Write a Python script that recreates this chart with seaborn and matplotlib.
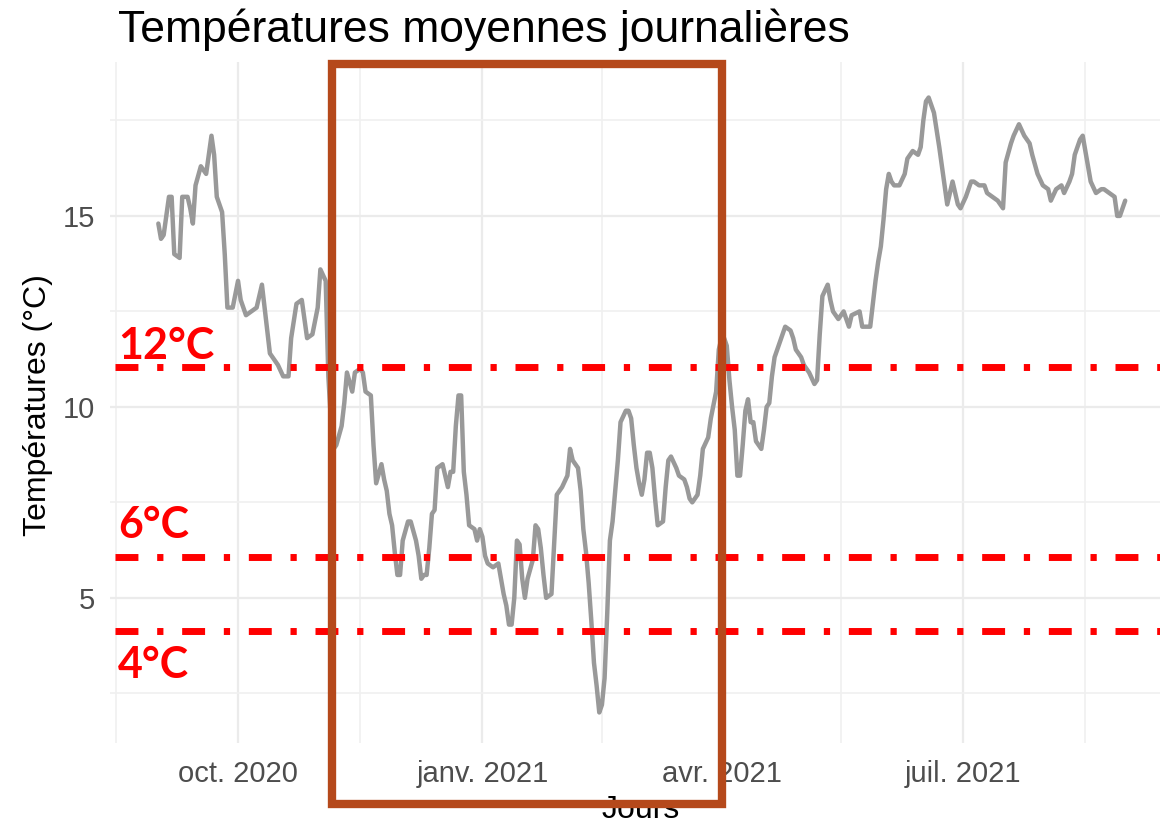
import pandas as pd
import matplotlib
matplotlib.use("Agg")
import matplotlib.pyplot as plt
import matplotlib.dates as mdates
from matplotlib.patches import Rectangle
from matplotlib.ticker import FixedLocator
import seaborn as sns

# Données : jours depuis le 1er sept. 2020 et température (°C)
debut = "2020-09-01"
jours = [
    0, 1, 2, 4, 5, 6, 8, 9, 11, 12,
    13, 14, 16, 18, 19, 20, 21, 22, 24, 25,
    26, 28, 30, 31, 33, 37, 39, 40, 42, 45,
    47, 49, 50, 52, 54, 56, 58, 60, 61, 63,
    64, 65, 66, 67, 69, 70, 71, 73, 74, 76,
    77, 78, 80, 81, 82, 84, 85, 86, 87, 88,
    89, 90, 91, 92, 94, 95, 97, 98, 99, 100,
    101, 102, 103, 104, 105, 107, 109, 110, 111, 112,
    113, 114, 115, 116, 117, 119, 120, 121, 122, 123,
    124, 126, 128, 129, 130, 131, 132, 133, 134, 135,
    136, 137, 138, 139, 141, 142, 143, 144, 145, 146,
    148, 149, 150, 152, 154, 155, 156, 158, 159, 160,
    161, 162, 163, 164, 165, 166, 167, 168, 169, 170,
    171, 172, 173, 174, 176, 177, 178, 179, 180, 181,
    182, 183, 184, 185, 186, 187, 188, 190, 191, 192,
    193, 195, 196, 198, 199, 200, 201, 203, 204, 205,
    207, 208, 210, 211, 212, 213, 214, 215, 216, 217,
    218, 219, 220, 221, 222, 223, 224, 225, 227, 228,
    229, 230, 231, 232, 233, 235, 236, 238, 239, 240,
    242, 243, 245, 247, 248, 249, 250, 252, 253, 254,
    256, 258, 260, 261, 264, 265, 267, 268, 269, 270,
    271, 272, 273, 274, 275, 276, 277, 279, 281, 282,
    284, 286, 287, 288, 289, 290, 291, 292, 294, 295,
    296, 297, 298, 299, 301, 302, 304, 306, 307, 309,
    311, 312, 314, 316, 318, 319, 321, 322, 324, 326,
    328, 329, 331, 333, 335, 336, 338, 340, 341, 343,
    344, 345, 347, 348, 350, 351, 353, 355, 356, 358,
    360, 361, 362, 363, 364,
]
temperatures = [
    14.8, 14.4, 14.5, 15.5, 15.5, 14.0, 13.9, 15.5, 15.5, 15.2,
    14.8, 15.8, 16.3, 16.1, 16.6, 17.1, 16.6, 15.5, 15.1, 14.0,
    12.6, 12.6, 13.3, 12.8, 12.4, 12.6, 13.2, 12.6, 11.4, 11.1,
    10.8, 10.8, 11.8, 12.7, 12.8, 11.8, 11.9, 12.6, 13.6, 13.3,
    10.8, 9.6, 8.9, 9.0, 9.5, 10.1, 10.9, 10.4, 10.9, 11.0,
    10.9, 10.4, 10.3, 9.0, 8.0, 8.5, 8.1, 7.8, 7.2, 6.9,
    6.2, 5.6, 5.6, 6.5, 7.0, 7.0, 6.5, 6.1, 5.5, 5.6,
    5.6, 6.3, 7.2, 7.3, 8.4, 8.5, 7.9, 8.3, 8.3, 9.5,
    10.3, 10.3, 8.3, 7.7, 6.9, 6.8, 6.5, 6.8, 6.6, 6.1,
    5.9, 5.8, 5.9, 5.5, 5.1, 4.8, 4.3, 4.3, 5.0, 6.5,
    6.4, 5.5, 5.0, 5.5, 6.0, 6.9, 6.8, 6.3, 5.6, 5.0,
    5.1, 6.4, 7.7, 7.9, 8.2, 8.9, 8.6, 8.4, 7.8, 6.8,
    6.2, 5.4, 4.4, 3.3, 2.7, 2.0, 2.2, 2.9, 4.6, 6.5,
    7.0, 7.8, 8.6, 9.6, 9.9, 9.9, 9.7, 9.0, 8.4, 8.0,
    7.7, 8.1, 8.8, 8.8, 8.4, 7.6, 6.9, 7.0, 7.9, 8.6,
    8.7, 8.4, 8.2, 8.1, 7.9, 7.6, 7.5, 7.7, 8.2, 8.9,
    9.2, 9.7, 10.4, 11.5, 11.8, 11.8, 11.6, 10.7, 10.0, 9.4,
    8.2, 8.2, 9.0, 9.9, 10.2, 9.6, 9.6, 9.1, 8.9, 9.4,
    10.0, 10.1, 10.8, 11.3, 11.5, 11.9, 12.1, 12.0, 11.8, 11.5,
    11.3, 11.1, 10.9, 10.6, 10.7, 11.9, 12.9, 13.2, 12.8, 12.5,
    12.3, 12.5, 12.1, 12.4, 12.5, 12.1, 12.1, 12.1, 12.7, 13.3,
    13.8, 14.2, 14.9, 15.7, 16.1, 15.9, 15.8, 15.8, 16.1, 16.5,
    16.7, 16.6, 16.8, 17.5, 18.0, 18.1, 17.9, 17.7, 16.8, 16.3,
    15.8, 15.3, 15.6, 15.9, 15.3, 15.2, 15.5, 15.9, 15.9, 15.8,
    15.8, 15.6, 15.5, 15.4, 15.2, 16.4, 16.9, 17.1, 17.4, 17.1,
    16.9, 16.6, 16.1, 15.8, 15.7, 15.4, 15.7, 15.8, 15.6, 15.9,
    16.1, 16.6, 17.0, 17.1, 16.3, 15.9, 15.6, 15.7, 15.7, 15.6,
    15.5, 15.0, 15.0, 15.2, 15.4,
]

# axes
mois_ticks = ["2020-10-01", "2021-01-01", "2021-04-01", "2021-07-01"]
mois_labels = ["oct. 2020", "janv. 2021", "avr. 2021", "juil. 2021"]
mois_mineurs = ["2020-08-16", "2020-11-16", "2021-02-15", "2021-05-16", "2021-08-16"]
y_ticks = [5, 10, 15]
y_mineurs = [2.5, 7.5, 12.5, 17.5]

# seuils ajoutés à la main
seuils = [11.05, 6.08, 4.14]
seuils_labels = ["12°C", "6°C", "4°C"]

df = pd.DataFrame({
    "date": pd.Timestamp(debut) + pd.to_timedelta(jours, unit="D"),
    "temp": temperatures,
})

sns.set_theme(style="whitegrid")
plt.rcParams["font.family"] = ["Liberation Sans", "DejaVu Sans"]

W, H = 1160, 824
fig = plt.figure(figsize=(W / 100, H / 100), dpi=100)
ax = fig.add_axes([110 / W, 1 - 743 / H, 1 - 110 / W, (743 - 62) / H])

sns.lineplot(data=df, x="date", y="temp", color="#999999", linewidth=3.2, ax=ax)

# limites (expansion façon ggplot)
t0 = pd.Timestamp(debut)
ax.set_xlim(mdates.date2num(t0 - pd.Timedelta(days=18.2)),
            mdates.date2num(t0 + pd.Timedelta(days=377.1)))
ax.set_ylim(1.2, 19.03)

ax.set_xticks(mdates.date2num(pd.to_datetime(mois_ticks)))
ax.set_xticklabels(mois_labels)
ax.xaxis.set_minor_locator(FixedLocator(mdates.date2num(pd.to_datetime(mois_mineurs))))
ax.set_yticks(y_ticks)
ax.yaxis.set_minor_locator(FixedLocator(y_mineurs))

ax.grid(which="major", color="#ebebeb", linewidth=1.6)
ax.grid(which="minor", color="#f0f0f0", linewidth=1.2)
ax.tick_params(which="both", length=0)
ax.tick_params(axis="x", labelsize=21, labelcolor="#4d4d4d", pad=12)
ax.tick_params(axis="y", labelsize=21, labelcolor="#4d4d4d", pad=11)
for s in ax.spines.values():
    s.set_visible(False)
ax.set_xlabel("")
ax.set_ylabel("")
ax.set_facecolor("white")

# lignes de seuil rouges
for s in seuils:
    ax.axhline(s, xmin=5 / 1050, xmax=1, color="#ff0000", linewidth=5,
               dashes=(3.3, 2.7, 0.9, 2.7), dash_capstyle="butt", zorder=3)

lab_y = [11.6, 6.91, 3.25]
for lab, yy in zip(seuils_labels, lab_y):
    ax.text(8 / 1050, yy, lab, transform=ax.get_yaxis_transform(),
            color="#ff0000", fontsize=31, fontweight="bold",
            family=["Lato", "DejaVu Sans"], ha="left", va="center", zorder=4)

# titres
fig.text(118 / W, 1 - 30 / H, "Températures moyennes journalières",
         fontsize=32, color="black", ha="left", va="center")
fig.text(38 / W, 1 - 405 / H, "Températures (°C)", rotation=90,
         fontsize=23, color="black", ha="center", va="center")
fig.text(641 / W, 1 - 810 / H, "Jours", fontsize=23, color="black",
         ha="center", va="center")

# cadre marron
fig.patches.append(Rectangle((332 / W, 1 - 804 / H), (722 - 332) / W, (804 - 64) / H,
                             transform=fig.transFigure, fill=False,
                             edgecolor="#b5491b", linewidth=6, zorder=10))

fig.savefig("out.png", dpi=100)
